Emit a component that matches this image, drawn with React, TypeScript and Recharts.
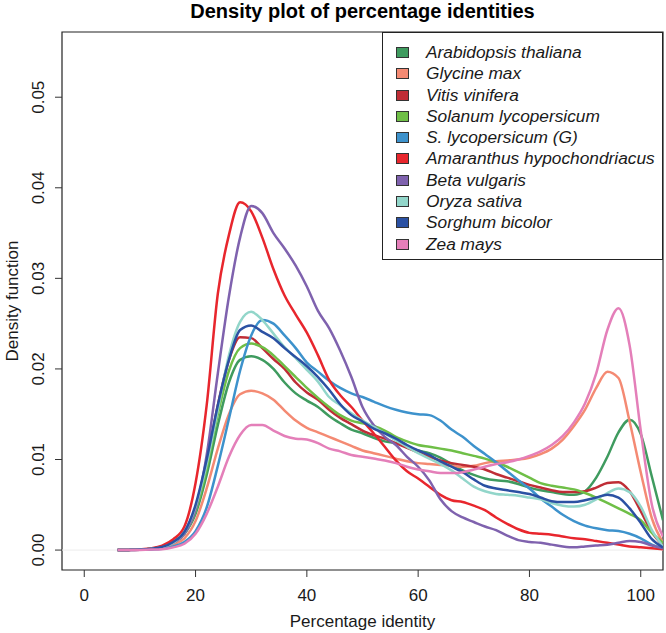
import React from "react";
import {
  LineChart,
  Line,
  XAxis,
  YAxis,
  ReferenceArea,
  ReferenceLine,
  Legend,
  Label,
} from "recharts";

// ---------------- data ----------------
const X_VALUES = [
  6, 8, 10, 12, 14, 16, 18, 20, 22, 24, 26, 28, 30, 32, 34, 36, 38, 40, 42, 44,
  46, 48, 50, 52, 54, 56, 58, 60, 62, 64, 66, 68, 70, 72, 74, 76, 78, 80, 82,
  84, 86, 88, 90, 92, 94, 96, 98, 100, 102, 104,
];

const ARABIDOPSIS = [
  0, 0.00002, 0.00006, 0.00015, 0.00035, 0.00085, 0.0018, 0.004, 0.0083,
  0.0138, 0.0185, 0.021, 0.0214, 0.021, 0.02, 0.0185, 0.0173, 0.0165, 0.0158,
  0.0148, 0.014, 0.0133, 0.0129, 0.0124, 0.012, 0.0118, 0.0114, 0.011, 0.0107,
  0.0102, 0.0095, 0.0088, 0.0083, 0.0079, 0.0077, 0.0076, 0.0073, 0.0069,
  0.0066, 0.0064, 0.0062, 0.0061, 0.0065, 0.008, 0.0103, 0.013, 0.0144,
  0.0128, 0.0081, 0.0033,
];

const GLYCINE = [
  0, 0.00001, 0.00004, 0.0001, 0.00025, 0.0006, 0.0013, 0.0032, 0.0068, 0.0112,
  0.015, 0.0172, 0.0176, 0.0173, 0.0166, 0.0154, 0.0143, 0.0135, 0.013, 0.0125,
  0.012, 0.0115, 0.011, 0.0107, 0.0104, 0.0101, 0.0098, 0.0096, 0.0095,
  0.0094, 0.0093, 0.0092, 0.0093, 0.0096, 0.0098, 0.0099, 0.01, 0.0102,
  0.0106, 0.0112, 0.0122, 0.0137, 0.0155, 0.0179, 0.0197, 0.019, 0.0142,
  0.0086, 0.0035, 0.0008,
];

const VITIS = [
  0, 0.00002, 0.00006, 0.00015, 0.00035, 0.0009, 0.002, 0.0047, 0.0097, 0.016,
  0.021, 0.0235, 0.0234, 0.0223, 0.0211, 0.02, 0.0185, 0.0174, 0.0166, 0.0155,
  0.0146, 0.0139, 0.0132, 0.0127, 0.0123, 0.0118, 0.0113, 0.0108, 0.0103,
  0.0099, 0.0096, 0.0094, 0.0092, 0.0089, 0.0084, 0.008, 0.0076, 0.0072,
  0.0069, 0.0066, 0.0064, 0.0064, 0.0065, 0.0069, 0.0074, 0.0075, 0.0065,
  0.0043, 0.002, 0.0005,
];

const SOLANUM = [
  0, 0.00002, 0.00006, 0.00015, 0.00035, 0.00085, 0.0018, 0.0043, 0.009,
  0.015, 0.0198, 0.0223, 0.0228, 0.0224, 0.0215, 0.0203, 0.0191, 0.0179,
  0.0168, 0.0158, 0.0149, 0.0143, 0.014, 0.0137, 0.0132, 0.0125, 0.012,
  0.0116, 0.0114, 0.0112, 0.011, 0.0107, 0.0104, 0.0101, 0.0097, 0.0092,
  0.0086, 0.008, 0.0074, 0.0071, 0.0069, 0.0067, 0.0063, 0.0058, 0.0052,
  0.0046, 0.004, 0.0033, 0.0019, 0.0008,
];

const SLYCO_G = [
  0, 0.00001, 0.00003, 0.00006, 0.00015, 0.0004, 0.0009, 0.0021, 0.0047,
  0.0093, 0.0145, 0.0198, 0.0237, 0.0254, 0.025, 0.0237, 0.0223, 0.0207,
  0.0197, 0.0187, 0.0179, 0.0173, 0.0169, 0.0164, 0.0159, 0.0155, 0.0152,
  0.015, 0.0149, 0.0143, 0.0133, 0.0125, 0.0115, 0.0106, 0.0097, 0.0087,
  0.0077, 0.0068, 0.0057, 0.0048, 0.0039, 0.0032, 0.0027, 0.0024, 0.0022,
  0.0021, 0.0018, 0.0013, 0.0006, 0.0002,
];

const AMARANTHUS = [
  0, 0.00002, 0.00008, 0.0002, 0.0005, 0.0012, 0.0026, 0.0074, 0.016, 0.0283,
  0.0348, 0.0384, 0.0374, 0.0345, 0.031, 0.0281, 0.026, 0.024, 0.0215,
  0.0188, 0.0171, 0.0158, 0.0143, 0.0129, 0.0114, 0.0099, 0.0087, 0.0079,
  0.007, 0.0061, 0.0055, 0.0053, 0.0049, 0.0044, 0.0036, 0.0029, 0.0023,
  0.0019, 0.0018, 0.0017, 0.0015, 0.0013, 0.0012, 0.001, 0.0008, 0.0006,
  0.0004, 0.0003, 0.0002, 0.0001,
];

const BETA = [
  0, 0.00001, 0.00004, 0.0001, 0.0003, 0.0008, 0.0018, 0.0045, 0.0105, 0.0195,
  0.028, 0.0345, 0.038, 0.0372, 0.035, 0.0333, 0.0314, 0.0291, 0.0264,
  0.0245, 0.022, 0.0191, 0.0158, 0.0138, 0.0125, 0.0116, 0.0103, 0.0092,
  0.0077, 0.0056, 0.0043, 0.0036, 0.0031, 0.0026, 0.0022, 0.0016, 0.0011,
  0.0009, 0.0008, 0.0006, 0.0004, 0.0003, 0.0004, 0.0005, 0.0006, 0.0008,
  0.001, 0.0009, 0.0005, 0.0002,
];

const ORYZA = [
  0, 0.00002, 0.00006, 0.00015, 0.0003, 0.0008, 0.002, 0.0048, 0.0095, 0.0155,
  0.0215, 0.0252, 0.0263, 0.0254, 0.0239, 0.0224, 0.0212, 0.0199, 0.0186,
  0.0169, 0.016, 0.0151, 0.0143, 0.0136, 0.0129, 0.0121, 0.0114, 0.0107,
  0.0101, 0.0095, 0.0088, 0.0079, 0.007, 0.0065, 0.0062, 0.0061, 0.006,
  0.0058, 0.0056, 0.0052, 0.0049, 0.0048, 0.005, 0.0056, 0.0063, 0.0068,
  0.0064, 0.0048, 0.0022, 0.0004,
];

const SORGHUM = [
  0, 0.00002, 0.00006, 0.00015, 0.00035, 0.0009, 0.002, 0.005, 0.01, 0.016,
  0.021, 0.0243, 0.0248, 0.0241, 0.0234, 0.0223, 0.0213, 0.0203, 0.0191,
  0.0177, 0.0161, 0.0149, 0.0142, 0.0134, 0.0129, 0.0123, 0.0116, 0.011,
  0.0105, 0.0098, 0.0092, 0.0086, 0.0078, 0.0071, 0.0068, 0.0066, 0.0064,
  0.0062, 0.0058, 0.0054, 0.0053, 0.0053, 0.0055, 0.0058, 0.0061, 0.0058,
  0.0046, 0.003, 0.0012, 0.0003,
];

const ZEA = [
  0, 0.00001, 0.00002, 0.00005, 0.0001, 0.0003, 0.0007, 0.0018, 0.004, 0.007,
  0.0103, 0.0127, 0.0138, 0.0138, 0.0132, 0.0126, 0.0123, 0.0122, 0.0118,
  0.0112, 0.0109, 0.0105, 0.0103, 0.0101, 0.0099, 0.0096, 0.0092, 0.0089,
  0.0087, 0.0085, 0.0085, 0.0086, 0.0089, 0.0092, 0.0095, 0.0097, 0.01,
  0.0104, 0.0109, 0.0116, 0.0126, 0.0141, 0.0162, 0.0195, 0.0243, 0.0267,
  0.0226, 0.0132, 0.005, 0.0015,
];

const SERIES_NAMES = [
  "Arabidopsis thaliana",
  "Glycine max",
  "Vitis vinifera",
  "Solanum lycopersicum",
  "S. lycopersicum (G)",
  "Amaranthus hypochondriacus",
  "Beta vulgaris",
  "Oryza sativa",
  "Sorghum bicolor",
  "Zea mays",
];

const SERIES_VALUES = [
  ARABIDOPSIS,
  GLYCINE,
  VITIS,
  SOLANUM,
  SLYCO_G,
  AMARANTHUS,
  BETA,
  ORYZA,
  SORGHUM,
  ZEA,
];

const X_TICKS = [0, 20, 40, 60, 80, 100];
const Y_TICKS = [0, 0.01, 0.02, 0.03, 0.04, 0.05];
const Y_TICK_LABELS = ["0.00", "0.01", "0.02", "0.03", "0.04", "0.05"];

const TITLE = "Density plot of percentage identities";
const X_TITLE = "Percentage identity";
const Y_TITLE = "Density function";

// ---------------- styles ----------------
const COLORS = [
  "#3f9b5f",
  "#f48a73",
  "#bf2d36",
  "#6fbf47",
  "#3d92cc",
  "#e8262d",
  "#7f62ae",
  "#92d6ca",
  "#2b51a3",
  "#e47fb9",
];

const FONT = "'Liberation Sans', Arial, Helvetica, sans-serif";
const TEXT_COLOR = "#1a1a1a";

const W = 666;
const H = 633;
const MARGIN = { top: 32, right: 3, bottom: 0, left: 0 };
const X_AXIS_H = 63;
const Y_AXIS_W = 62;
const PLOT_LEFT = MARGIN.left + Y_AXIS_W;
const PLOT_RIGHT = W - MARGIN.right;
const PLOT_TOP = MARGIN.top;
const PLOT_BOTTOM = H - MARGIN.bottom - X_AXIS_H;
const PLOT_CX = (PLOT_LEFT + PLOT_RIGHT) / 2;
const PLOT_CY = (PLOT_TOP + PLOT_BOTTOM) / 2;

const X_DOMAIN: [number, number] = [-4, 104];
const Y_DOMAIN: [number, number] = [-0.0022, 0.0572];

const keyFor = (i: number) => `s${i}`;

const rows = X_VALUES.map((x, i) => {
  const row: Record<string, number> = { x };
  SERIES_VALUES.forEach((arr, s) => {
    row[keyFor(s)] = arr[i];
  });
  return row;
});

const XTick = (props: any) => {
  const { x, y, payload } = props;
  return (
    <text
      x={x}
      y={y + 22}
      textAnchor="middle"
      fontSize={17}
      fontFamily={FONT}
      fill={TEXT_COLOR}
    >
      {payload.value}
    </text>
  );
};

const YTick = (props: any) => {
  const { x, y, payload } = props;
  const idx = Y_TICKS.indexOf(payload.value);
  const label = idx >= 0 ? Y_TICK_LABELS[idx] : String(payload.value);
  const bx = x - 9;
  return (
    <text
      x={bx}
      y={y}
      transform={`rotate(-90, ${bx}, ${y})`}
      textAnchor="middle"
      fontSize={17}
      fontFamily={FONT}
      fill={TEXT_COLOR}
    >
      {label}
    </text>
  );
};

const renderTitles = () => (
  <g>
    <text
      x={PLOT_CX}
      y={627}
      textAnchor="middle"
      fontSize={17}
      fontFamily={FONT}
      fill={TEXT_COLOR}
    >
      {X_TITLE}
    </text>
    <text
      x={PLOT_CX}
      y={18}
      textAnchor="middle"
      fontSize={20}
      fontWeight="bold"
      fontFamily={FONT}
      fill="#000"
    >
      {TITLE}
    </text>
  </g>
);

const renderYTitle = () => (
  <text
    x={18}
    y={PLOT_CY}
    transform={`rotate(-90, 18, ${PLOT_CY})`}
    textAnchor="middle"
    fontSize={17}
    fontFamily={FONT}
    fill={TEXT_COLOR}
  >
    {Y_TITLE}
  </text>
);

const LEG_LEFT = 382;
const LEG_W = PLOT_RIGHT - LEG_LEFT;
const LEG_H = 228;
const LEG_FIRST = 20.5;
const LEG_STEP = 21.3;

const renderLegend = () => (
  <div
    style={{
      position: "relative",
      boxSizing: "border-box",
      width: LEG_W,
      height: LEG_H,
      border: "1px solid #222",
      background: "#fff",
      fontFamily: FONT,
      fontStyle: "italic",
      fontSize: 17.3,
      color: TEXT_COLOR,
    }}
  >
    {SERIES_NAMES.map((name, i) => (
      <div
        key={name}
        style={{
          position: "absolute",
          left: 0,
          top: LEG_FIRST + LEG_STEP * i - LEG_STEP / 2 - 1,
          height: LEG_STEP,
          display: "flex",
          alignItems: "center",
          whiteSpace: "nowrap",
        }}
      >
        <span
          style={{
            display: "inline-block",
            boxSizing: "border-box",
            marginLeft: 13,
            width: 13,
            height: 11,
            background: COLORS[i],
            border: "1px solid #333",
          }}
        />
        <span style={{ marginLeft: 17 }}>{name}</span>
      </div>
    ))}
  </div>
);

export default function App() {
  return (
    <div
      style={{
        position: "absolute",
        left: 0,
        top: 0,
        width: W,
        height: H,
        background: "#fff",
      }}
    >
      <LineChart width={W} height={H} data={rows} margin={MARGIN}>
        <XAxis
          dataKey="x"
          type="number"
          domain={X_DOMAIN}
          ticks={X_TICKS}
          allowDataOverflow
          height={X_AXIS_H}
          axisLine={false}
          tickLine={{ stroke: "#333" }}
          tickSize={7}
          tickMargin={2}
          tick={<XTick />}
          interval={0}
        >
          <Label content={renderTitles} />
        </XAxis>
        <YAxis
          type="number"
          domain={Y_DOMAIN}
          ticks={Y_TICKS}
          allowDataOverflow
          width={Y_AXIS_W}
          axisLine={false}
          tickLine={{ stroke: "#333" }}
          tickSize={7}
          tickMargin={2}
          tick={<YTick />}
          interval={0}
        >
          <Label content={renderYTitle} />
        </YAxis>
        <ReferenceLine y={0} stroke="#ececec" strokeWidth={1} />
        {SERIES_NAMES.map((name, i) => (
          <Line
            key={name}
            name={name}
            type="monotone"
            dataKey={keyFor(i)}
            stroke={COLORS[i]}
            strokeWidth={2.5}
            dot={false}
            activeDot={false}
            isAnimationActive={false}
          />
        ))}
        <ReferenceArea
          x1={X_DOMAIN[0]}
          x2={X_DOMAIN[1]}
          y1={Y_DOMAIN[0]}
          y2={Y_DOMAIN[1]}
          fill="none"
          fillOpacity={0}
          stroke="#222"
          strokeWidth={1.2}
          ifOverflow="visible"
        />
        <Legend
          layout="horizontal"
          align="center"
          verticalAlign="middle"
          width={LEG_W}
          content={renderLegend}
          wrapperStyle={{
            left: LEG_LEFT,
            top: PLOT_TOP,
            width: LEG_W,
            height: LEG_H,
          }}
        />
      </LineChart>
    </div>
  );
}
